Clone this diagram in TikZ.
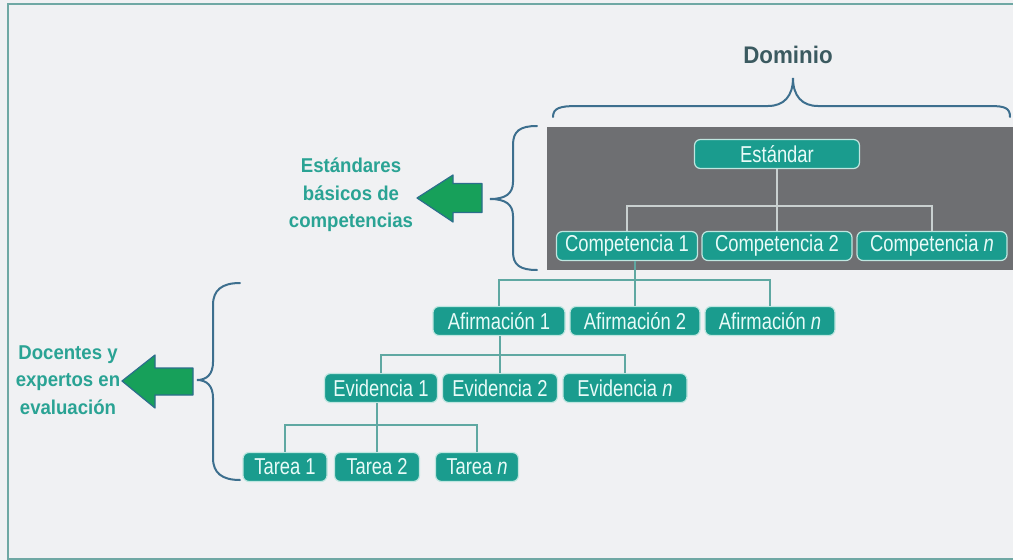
\documentclass[tikz,border=0pt]{standalone}
\usepackage{fontspec}
\setmainfont{Liberation Sans}
\newfontfamily\boxfont{Liberation Sans}[FakeStretch=0.8]
\newfontfamily\labelfont{Liberation Sans}[FakeStretch=0.93]
\usetikzlibrary{calc}

\definecolor{paper}{HTML}{F0F1F3}
\definecolor{framecol}{HTML}{6FA8A4}
\definecolor{panel}{HTML}{6E6F72}
\definecolor{boxteal}{HTML}{1A9C8E}
\definecolor{boxedge}{HTML}{BFE6E0}
\definecolor{boxtext}{HTML}{E8FBF8}
\definecolor{linkcol}{HTML}{5FA8A2}
\definecolor{inlinkcol}{HTML}{C9D0D0}
\definecolor{bracecol}{HTML}{3D6F8E}
\definecolor{labelcol}{HTML}{2AA394}
\definecolor{titlecol}{HTML}{3B5A60}
\definecolor{arrowgreen}{HTML}{17A05A}
\definecolor{arrowedge}{HTML}{2C6E8C}

\begin{document}
\begin{tikzpicture}[x=1pt, y=-1pt,
	box/.style={rounded corners=6pt, fill=boxteal, draw=boxedge, line width=1.2pt,
		text=boxtext, minimum height=29pt, inner xsep=3pt,
		font=\boxfont\fontsize{23}{25}\selectfont},
	link/.style={draw=linkcol, line width=1.2pt},
	inlink/.style={draw=inlinkcol, line width=1.2pt},
	curly/.style={draw=bracecol, line width=2pt, line cap=round},
	bigarrow/.style={fill=arrowgreen, draw=arrowedge, line width=1.2pt, line join=round},
	sidelabel/.style={text=labelcol, align=center,
		font=\labelfont\bfseries\fontsize{20}{27.5}\selectfont}]
	\useasboundingbox (0,0) rectangle (1013,560);
	\fill[paper] (0,0) rectangle (1013,560);
	\draw[framecol, line width=2pt] (8,4) rectangle (1016,559);

	% dominio
	\node[text=titlecol, font=\labelfont\bfseries\fontsize{24}{28}\selectfont] (dom) at (788,55) {Dominio};
	\draw[curly] (553,117) .. controls (553,108) and (560,106) .. (577,106) -- (768,106)
		.. controls (784,106) and (793,96) .. (793,78) .. controls (793,96) and (802,106) .. (818,106)
		-- (990,106) .. controls (1005,106) and (1010,108) .. (1010,117);

	% panel of the standard
	\fill[panel] (547,127) rectangle (1013,270);
	\node[box, minimum width=165pt] (est) at (777,154) {Estándar};
	\node[box, minimum width=141pt] (c1) at (627,246) {Competencia 1};
	\node[box, minimum width=150pt] (c2) at (777,246) {Competencia 2};
	\node[box, minimum width=150pt] (cn) at (932,246) {Competencia \textit{n}};
	\draw[inlink] (est.south) -- (c2.north);
	\draw[inlink] (c1.north) -- ++(0,-25) -| (cn.north);

	% afirmaciones, evidencias, tareas
	\node[box, minimum width=132pt] (a1) at (499,321) {Afirmación 1};
	\node[box, minimum width=130pt] (a2) at (635,321) {Afirmación 2};
	\node[box, minimum width=130pt] (an) at (770,321) {Afirmación \textit{n}};
	\node[box, minimum width=113pt] (e1) at (381,388) {Evidencia 1};
	\node[box, minimum width=115pt] (e2) at (500,388) {Evidencia 2};
	\node[box, minimum width=124pt] (en) at (625,388) {Evidencia \textit{n}};
	\node[box, minimum width=84pt] (t1) at (285,467) {Tarea 1};
	\node[box, minimum width=85pt] (t2) at (377,467) {Tarea 2};
	\node[box, minimum width=83pt] (tn) at (477,467) {Tarea \textit{n}};

	\draw[link] (c1.south -| a2.north) -- (a2.north);
	\draw[link] (a1.north) -- ++(0,-26) -| (an.north);
	\draw[link] (a1.south -| e2.north) -- (e2.north);
	\draw[link] (e1.north) -- ++(0,-18) -| (en.north);
	\draw[link] (e1.south -| t2.north) -- (t2.north);
	\draw[link] (t1.north) -- ++(0,-27) -| (tn.north);

	% left side: braces, arrows, labels
	\draw[curly] (537,126) .. controls (520,126) and (513,131) .. (513,145) -- (513,182)
		.. controls (513,194) and (505,199) .. (490,199) .. controls (505,199) and (513,204) .. (513,216)
		-- (513,252) .. controls (513,265) and (520,270) .. (537,270);
	\draw[bigarrow] (417,198) -- (453,175) -- (453,183.5) -- (482,183.5)
		-- (482,212.5) -- (453,212.5) -- (453,222) -- cycle;
	\node[sidelabel] (std) at (351,195) {Estándares\\básicos de\\competencias};

	\draw[curly] (240,283) .. controls (222,283) and (213,290) .. (213,305) -- (213,362)
		.. controls (213,374) and (207,380) .. (197,380) .. controls (207,380) and (213,386) .. (213,398)
		-- (213,458) .. controls (213,473) and (222,480) .. (240,480);
	\draw[bigarrow] (122,381) -- (155,355) -- (155,368) -- (193,368)
		-- (193,395) -- (155,395) -- (155,408) -- cycle;
	\node[sidelabel] (doc) at (68,380) {Docentes y\\expertos en\\evaluación};
\end{tikzpicture}
\end{document}
